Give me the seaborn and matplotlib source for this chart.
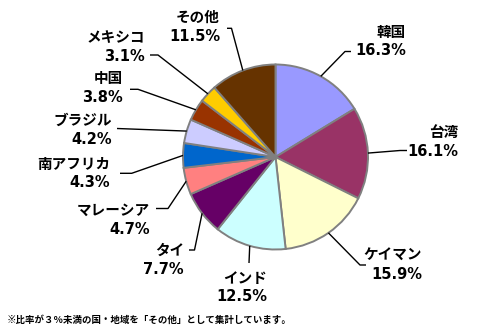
import numpy as np
import matplotlib
matplotlib.use("Agg")
import matplotlib.pyplot as plt
import seaborn as sns

# Share by country/region (clockwise from 12 o'clock)
countries = ["韓国", "台湾", "ケイマン", "インド", "タイ", "マレーシア",
             "南アフリカ", "ブラジル", "中国", "メキシコ", "その他"]
shares = [16.3, 16.1, 15.9, 12.5, 7.7, 4.7, 4.3, 4.2, 3.8, 3.1, 11.5]
colors = ["#9999FF", "#993366", "#FFFFCC", "#CCFFFF", "#660066", "#FF8080",
          "#0066CC", "#CCCCFF", "#993300", "#FFCC00", "#663300"]
note = "※比率が３％未満の国・地域を「その他」として集計しています。"

sns.set_theme(style="white")
plt.rcParams["font.family"] = ["DejaVu Sans", "Noto Sans CJK JP"]

W, H = 500, 333
fig = plt.figure(figsize=(W / 100, H / 100), dpi=100)
ax = fig.add_axes([0, 0, 1, 1])

cx, cy, R = 275.5, 157.0, 92.5
wedges, _ = ax.pie(shares, colors=colors, startangle=-90, counterclock=True,
                   center=(cx, cy), radius=R, frame=True,
                   wedgeprops=dict(edgecolor="#808080", linewidth=1.4))
ax.set_xlim(0, W)
ax.set_ylim(H, 0)
ax.set_aspect("equal")
ax.axis("off")

# label layout: text right edge, text block centre y, leader elbow, leader end x
layout = {
    "韓国":      (406, 41.6, (345, 51.5), 351),
    "台湾":      (458, 142.0, (400, 150.5), 407),
    "ケイマン":  (422, 265.0, (360, 265.0), 366),
    "インド":    (267, 287.5, (249, 263.0), 249),
    "タイ":      (184, 260.0, (194.5, 250.0), 189),
    "マレーシア": (150, 220.0, (168, 208.5), 156),
    "南アフリカ": (110, 173.5, (131.7, 173.3), 120),
    "ブラジル":  (112, 129.8, (117, 128.5), 117),
    "中国":      (123, 87.7, (138, 89.3), 130),
    "メキシコ":  (145, 47.0, (158, 55.0), 150),
    "その他":    (220, 27.0, (231.5, 28.3), 227),
}

for w, name, val in zip(wedges, countries, shares):
    mid = np.deg2rad((w.theta1 + w.theta2) / 2)
    ex, ey = cx + R * np.cos(mid), cy + R * np.sin(mid)
    tx, ty, (bx, by), endx = layout[name]
    ax.plot([ex, bx, endx], [ey, by, by], color="black", lw=1.0,
            solid_capstyle="butt", zorder=1)
    ax.text(tx, ty, f"{name}\n{val:.1f}%", ha="right", va="center",
            multialignment="right", fontsize=10.5, linespacing=1.3,
            weight="bold", color="black")

ax.text(7, 320, note, ha="left", va="center", fontsize=6.8,
        family=["Noto Sans CJK JP", "DejaVu Sans"], weight="bold",
        color="black")

fig.savefig("out.png", dpi=100, facecolor="white")
